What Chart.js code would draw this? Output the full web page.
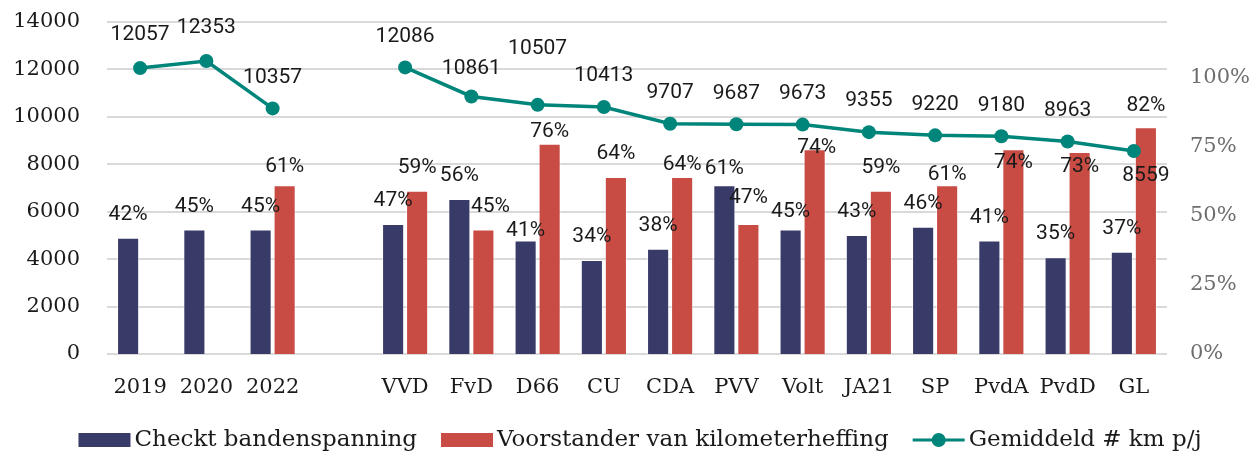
<!DOCTYPE html>
<html>
<head>
<meta charset="utf-8">
<script src="https://cdn.jsdelivr.net/npm/chart.js@4/dist/chart.umd.min.js"></script>
<style>
  html, body { margin: 0; padding: 0; background: #ffffff; }
  #wrap { width: 1257px; height: 452px; }
</style>
</head>
<body>
<div id="wrap"><canvas id="c" width="1257" height="452"></canvas></div>
<script>
// ---- data ----
const categories = ['2019', '2020', '2022', '', 'VVD', 'FvD', 'D66', 'CU', 'CDA', 'PVV', 'Volt', 'JA21', 'SP', 'PvdA', 'PvdD', 'GL'];
const checktBandenspanning = [42, 45, 45, null, 47, 56, 41, 34, 38, 61, 45, 43, 46, 41, 35, 37];
const voorstanderKilometerheffing = [null, null, 61, null, 59, 45, 76, 64, 64, 47, 74, 59, 61, 74, 73, 82];
const gemiddeldKm = [12057, 12353, 10357, null, 12086, 10861, 10507, 10413, 9707, 9687, 9673, 9355, 9220, 9180, 8963, 8559];
const leftAxis = { min: 0, max: 14000, step: 2000 };
const rightAxis = { min: 0, max: 120, step: 25 };
const rightTickValues = [0, 25, 50, 75, 100];
const seriesNames = ['Checkt bandenspanning', 'Voorstander van kilometerheffing', 'Gemiddeld # km p/j'];

// ---- styles ----
const BLUE = '#383a68', RED = '#c84b44', TEAL = '#00857a';
const SERIF = '"DejaVu Serif", serif';
const SANS = 'Roboto, "Liberation Sans", sans-serif';

// label placement tweaks (distance of label centre above the mark), per category index
const barLabelPlacement = [
  { def: 23, adj: { 6: { dy: 10 }, 9: { dy: 16 }, 10: { dy: 18 } } },
  { def: 23, adj: { 2: { dy: 18 }, 5: { dy: 23, dx: 7 }, 6: { dy: 12 }, 8: { dy: 12 }, 9: { dy: 26 },
                    10: { dy: 2, dx: 2 }, 12: { dy: 10 }, 13: { dy: -13 }, 14: { dy: -15 }, 15: { dy: 21 } } }
];
const lineLabelPlacement = { def: 31, adj: { 0: { dy: 33 }, 1: { dy: 33 }, 5: { dy: 28 }, 6: { dy: 56 }, 15: { dy: -25, dx: 12 } } };

const labelPlugin = {
  id: 'valueLabels',
  afterDatasetsDraw(chart) {
    const ctx = chart.ctx;
    ctx.save();
    ctx.font = '21px ' + SANS;
    ctx.fillStyle = '#1a1a1a';
    ctx.textAlign = 'center';
    ctx.textBaseline = 'middle';
    chart.data.datasets.forEach((ds, di) => {
      const meta = chart.getDatasetMeta(di);
      const place = di < 2 ? barLabelPlacement[di] : lineLabelPlacement;
      meta.data.forEach((el, i) => {
        const v = ds.data[i];
        if (v === null || v === undefined) return;
        const a = place.adj[i] || {};
        const dy = a.dy !== undefined ? a.dy : place.def;
        const dx = a.dx || 0;
        const txt = di < 2 ? v + '%' : String(v);
        ctx.fillText(txt, el.x + dx, el.y - dy);
      });
    });
    ctx.restore();
  }
};

const legendPlugin = {
  id: 'customLegend',
  afterDraw(chart) {
    const ctx = chart.ctx;
    ctx.save();
    ctx.font = '23px ' + SERIF;
    ctx.textBaseline = 'middle';
    ctx.textAlign = 'left';
    const boxW = 52, boxH = 14, gapBT = 4, gapItem = 24;
    const widths = seriesNames.map(n => ctx.measureText(n).width);
    const total = widths.reduce((s, w) => s + w + boxW + gapBT, 0) + gapItem * (seriesNames.length - 1);
    let x = 640 - total / 2;
    const yc = 440;
    seriesNames.forEach((name, i) => {
      if (i < 2) {
        ctx.fillStyle = i === 0 ? BLUE : RED;
        ctx.fillRect(x, yc - boxH / 2, boxW, boxH);
      } else {
        ctx.strokeStyle = TEAL;
        ctx.lineWidth = 3;
        ctx.beginPath();
        ctx.moveTo(x, yc);
        ctx.lineTo(x + boxW, yc);
        ctx.stroke();
        ctx.fillStyle = TEAL;
        ctx.beginPath();
        ctx.arc(x + boxW / 2, yc, 7, 0, Math.PI * 2);
        ctx.fill();
      }
      ctx.fillStyle = '#1a1a1a';
      ctx.fillText(name, x + boxW + gapBT, yc);
      x += boxW + gapBT + widths[i] + gapItem;
    });
    ctx.restore();
  }
};

function fixVertical(width) {
  return function (s) {
    s.width = width;
    s.paddingTop = 12;
    s.paddingBottom = 0;
  };
}

new Chart(document.getElementById('c'), {
  data: {
    labels: categories,
    datasets: [
      { type: 'bar', label: seriesNames[0], data: checktBandenspanning, yAxisID: 'y1', backgroundColor: BLUE,
        borderColor: 'rgba(255,255,255,0.6)', borderWidth: 1, categoryPercentage: 0.725, barPercentage: 0.92, order: 2 },
      { type: 'bar', label: seriesNames[1], data: voorstanderKilometerheffing, yAxisID: 'y1', backgroundColor: RED,
        borderColor: 'rgba(255,255,255,0.6)', borderWidth: 1, categoryPercentage: 0.725, barPercentage: 0.92, order: 2 },
      { type: 'line', label: seriesNames[2], data: gemiddeldKm, yAxisID: 'y', borderColor: TEAL, backgroundColor: TEAL,
        borderWidth: 3.5, pointRadius: 7, pointHoverRadius: 7, pointBackgroundColor: TEAL, pointBorderWidth: 0,
        spanGaps: false, tension: 0, order: 0 }
    ]
  },
  options: {
    responsive: false,
    animation: false,
    devicePixelRatio: 1,
    layout: { padding: { top: 22, bottom: 0, left: 0, right: 0 } },
    plugins: { legend: { display: false }, tooltip: { enabled: false } },
    scales: {
      x: {
        grid: { display: false },
        border: { display: false },
        ticks: { font: { family: SERIF, size: 21 }, color: '#1a1a1a', padding: 13, maxRotation: 0, autoSkip: false },
        afterFit(s) { s.height = 98; s.paddingLeft = 0; s.paddingRight = 0; }
      },
      y: {
        position: 'left',
        min: leftAxis.min, max: leftAxis.max,
        ticks: { stepSize: leftAxis.step, font: { family: SERIF, size: 21 }, color: '#1a1a1a', padding: 27,
                 callback: v => String(v) },
        grid: { color: '#d9d9d9', lineWidth: 2, drawTicks: false },
        border: { display: false },
        afterFit: fixVertical(107)
      },
      y1: {
        position: 'right',
        min: rightAxis.min, max: rightAxis.max,
        ticks: { stepSize: rightAxis.step, font: { family: SERIF, size: 21 }, color: '#6e6e6e', padding: 23,
                 callback: v => v + '%' },
        afterBuildTicks(s) { s.ticks = rightTickValues.map(v => ({ value: v })); },
        grid: { display: false, drawTicks: false },
        border: { display: false },
        afterFit: fixVertical(90)
      }
    }
  },
  plugins: [labelPlugin, legendPlugin]
});
</script>
</body>
</html>
